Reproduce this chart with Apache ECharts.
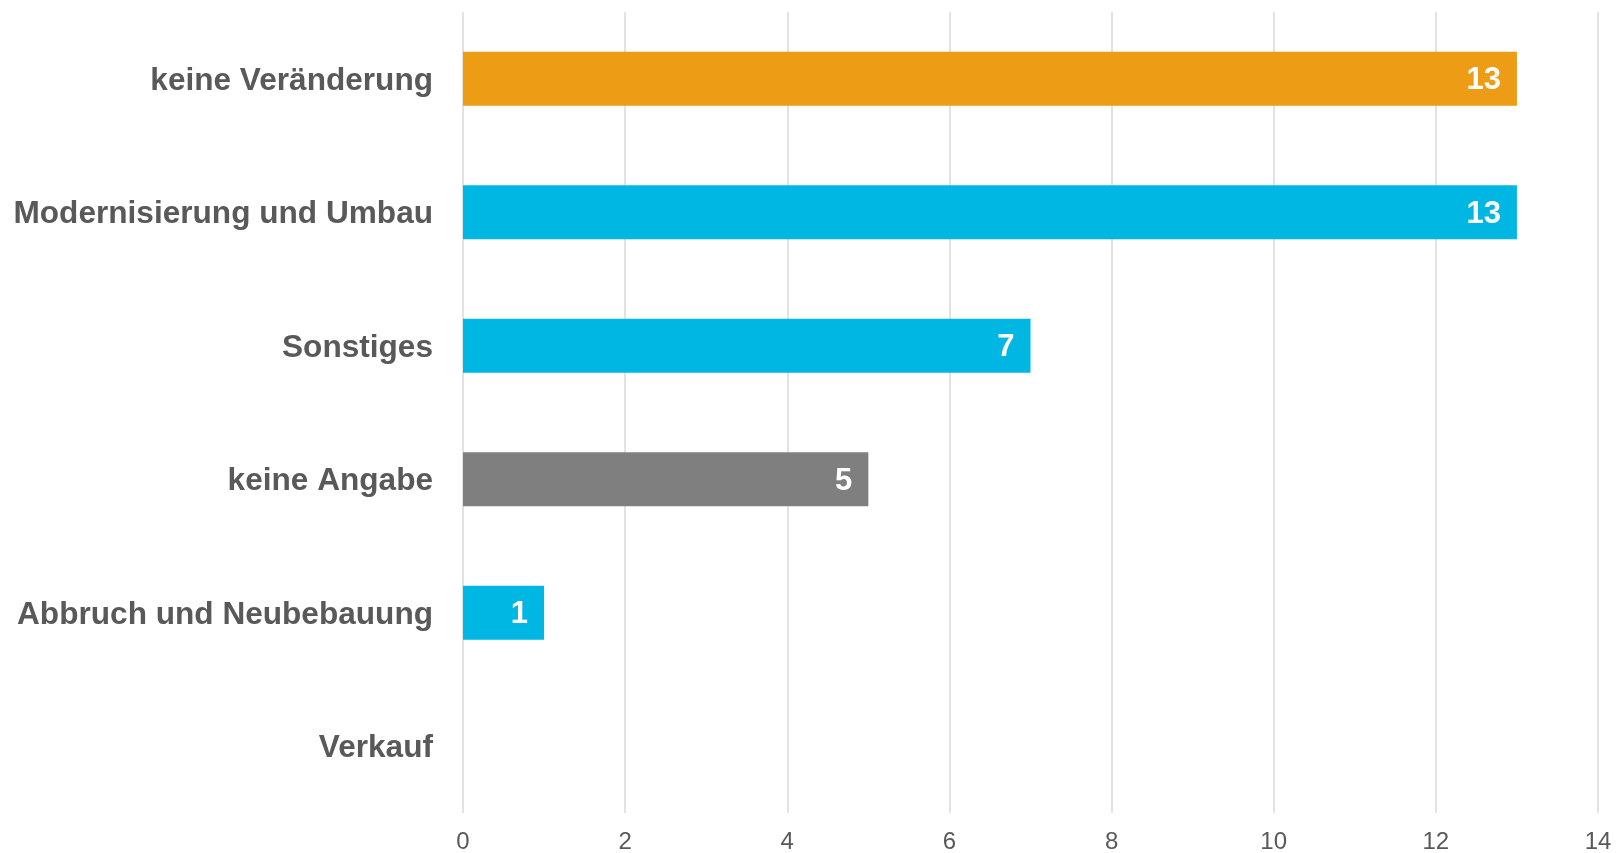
<!DOCTYPE html>
<html><head><meta charset="utf-8">
<script src="https://cdn.jsdelivr.net/npm/echarts@6/dist/echarts.min.js"></script>
<style>html,body{margin:0;padding:0;background:#fff}#c{width:1616px;height:853px}</style>
</head><body><div id="c"></div>
<script>
const categories = ["keine Veränderung","Modernisierung und Umbau","Sonstiges","keine Angabe","Abbruch und Neubebauung","Verkauf"];
const values = [13,13,7,5,1,0];
const barColors = ["#EC9C15","#00B6E3","#00B6E3","#7F7F7F","#00B6E3","#00B6E3"];
const xTicks = [0,2,4,6,8,10,12,14];
const FONT = "'Liberation Sans', Arial, sans-serif";

const chart = echarts.init(document.getElementById('c'));
chart.setOption({
  animation:false,
  grid:{left:463,right:18,top:12,bottom:40,containLabel:false,outerBoundsMode:'none'},
  xAxis:{type:'value',min:0,max:14,interval:2,
    axisLine:{show:false},axisTick:{show:false},
    splitLine:{show:true,lineStyle:{color:'#d9d9d9',width:1.5}},
    axisLabel:{color:'#595959',fontSize:24,fontFamily:FONT,margin:17,
      formatter:v=>xTicks.includes(v)?String(v):''}},
  yAxis:{type:'category',inverse:true,data:categories,
    axisLine:{show:false},axisTick:{show:false},
    axisLabel:{color:'#595959',fontSize:31.6,fontWeight:'bold',fontFamily:FONT,margin:30,
      formatter:v=>'{a|'+v+'}',
      rich:{a:{color:'#595959',fontSize:31.6,fontWeight:'bold',fontFamily:FONT,padding:[5,0,0,0]}}}},
  series:[{type:'bar',barWidth:54,
    data:values.map((v,i)=>({value:v,itemStyle:{color:barColors[i]}})),
    label:{show:true,position:'insideRight',distance:16,offset:[0,2],color:'#fff',fontSize:31,fontWeight:'bold',
      fontFamily:FONT,formatter:p=>p.value>0?String(p.value):''}}]
});
</script></body></html>
